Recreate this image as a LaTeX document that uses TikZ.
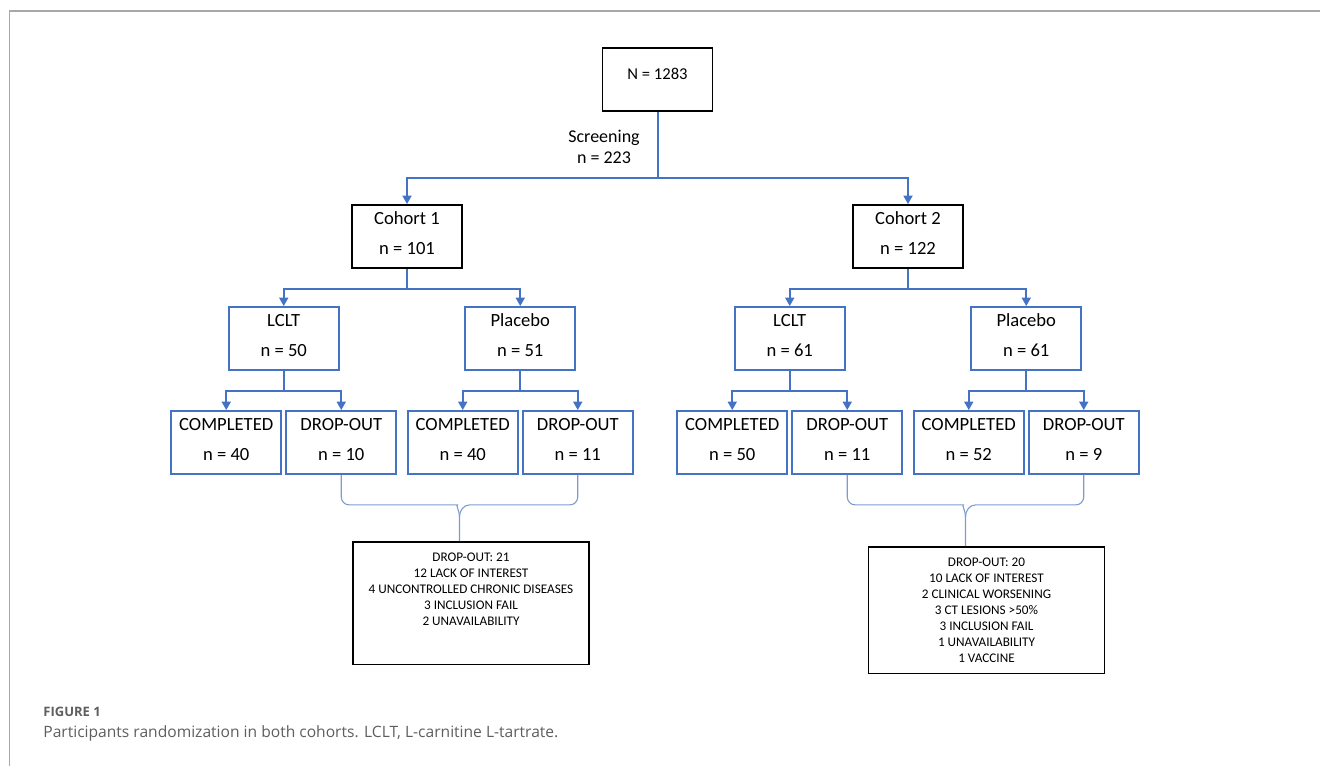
\documentclass[tikz,border=0pt]{standalone}
\usepackage{fontspec}
\setmainfont{Carlito}
\newfontfamily\captionfont{Open Sans}
\usetikzlibrary{arrows.meta,calc}
\definecolor{flowblue}{HTML}{4472C4}
\definecolor{braceblue}{HTML}{7C9BD2}
\definecolor{framegray}{HTML}{A8A8A8}
\definecolor{captiongray}{HTML}{5E5E5E}
\begin{document}
\begin{tikzpicture}[x=0.5pt, y=-0.5pt,
    box/.style={draw, line width=0.9pt, minimum width=55pt, minimum height=31.5pt,
      inner sep=0pt, align=center, text depth=3.5pt, font=\fontsize{9.3}{15}\selectfont},
    sumbox/.style={draw, line width=0.9pt, minimum width=118pt, inner xsep=2pt,
      inner ysep=5.5pt, align=center, font=\fontsize{6.6}{8}\selectfont},
    brace/.style={draw=braceblue, line width=0.55pt},
    every child node/.style={box},
    edge from parent/.style={draw=flowblue, line width=1pt, -{Triangle[length=4.2pt,width=4.4pt]}},
    level 1/.style={sibling distance=250.5pt, level distance=78.5pt, xshift=7.5pt,
      edge from parent path={(\tikzparentnode.south) -- ++(0,-33pt) -| (\tikzchildnode.north)}},
    level 2/.style={sibling distance=118.25pt, level distance=51pt,
      edge from parent path={(\tikzparentnode.south) -- ++(0,-10pt) -| (\tikzchildnode.north)}},
    level 3/.style={sibling distance=57.5pt, level distance=52pt}]

\useasboundingbox (0,0) rectangle (1320,766);
\draw[framegray, line width=0.8pt] (1320,11) -- (9.5,11) -- (9.5,766);

\node[box, text depth=5.5pt, font=\fontsize{8.3}{10}\selectfont] (top) at (657.5,79.5) {N = 1283}
    child {node (coh1) {Cohort 1\\n = 101}
        child[xshift=-2.5pt] {node (lclt1) {LCLT\\n = 50}
            child {node (comp1a) {COMPLETED\\n = 40}}
            child {node (drop1a) {DROP-OUT\\n = 10}}
        }
        child[xshift=-2.5pt] {node (plac1) {Placebo\\n = 51}
            child {node (comp1b) {COMPLETED\\n = 40}}
            child {node (drop1b) {DROP-OUT\\n = 11}}
        }
    }
    child {node (coh2) {Cohort 2\\n = 122}
        child {node (lclt2) {LCLT\\n = 61}
            child {node (comp2a) {COMPLETED\\n = 50}}
            child {node (drop2a) {DROP-OUT\\n = 11}}
        }
        child {node (plac2) {Placebo\\n = 61}
            child {node (comp2b) {COMPLETED\\n = 52}}
            child {node (drop2b) {DROP-OUT\\n = 9}}
        }
    };

\node[align=center, font=\fontsize{9}{10.5}\selectfont] (screen) at (604,146.5) {Screening\\n = 223};

\node[sumbox, anchor=north, text depth=14pt] (sum1) at (471,541)
    {DROP-OUT: 21\\12 LACK OF INTEREST\\4 UNCONTROLLED CHRONIC DISEASES\\3 INCLUSION FAIL\\2 UNAVAILABILITY};
\node[sumbox, anchor=north] (sum2) at (986.5,546)
    {DROP-OUT: 20\\10 LACK OF INTEREST\\2 CLINICAL WORSENING\\3 CT LESIONS >50\%\\3 INCLUSION FAIL\\1 UNAVAILABILITY\\1 VACCINE};

\coordinate (k1) at ($(drop1a.south)!0.5!(drop1b.south)$);
\draw[brace] (drop1a.south) [rounded corners=4pt] |- ($(k1)+(-10,30)$) [sharp corners]
    to[out=0,in=90] ($(k1)+(0,42)$) -- (k1 |- sum1.north);
\draw[brace] ($(k1)+(0,42)$) to[out=90,in=180] ($(k1)+(10,30)$) [rounded corners=4pt] -| (drop1b.south);

\coordinate (k2) at ($(drop2a.south)!0.5!(drop2b.south)$);
\draw[brace] (drop2a.south) [rounded corners=4pt] |- ($(k2)+(-10,30)$) [sharp corners]
    to[out=0,in=90] ($(k2)+(0,42)$) -- (k2 |- sum2.north);
\draw[brace] ($(k2)+(0,42)$) to[out=90,in=180] ($(k2)+(10,30)$) [rounded corners=4pt] -| (drop2b.south);

\node[anchor=base west, inner sep=0pt, text=captiongray,
    font=\captionfont\bfseries\fontsize{6.5}{8}\selectfont] (figlabel) at (43,716) {FIGURE 1};
\node[anchor=base west, inner sep=0pt, text=captiongray,
    font=\captionfont\fontsize{7.8}{9}\selectfont] (caption) at (43,737)
    {Participants randomization in both cohorts. LCLT, L-carnitine L-tartrate.};
\end{tikzpicture}
\end{document}
